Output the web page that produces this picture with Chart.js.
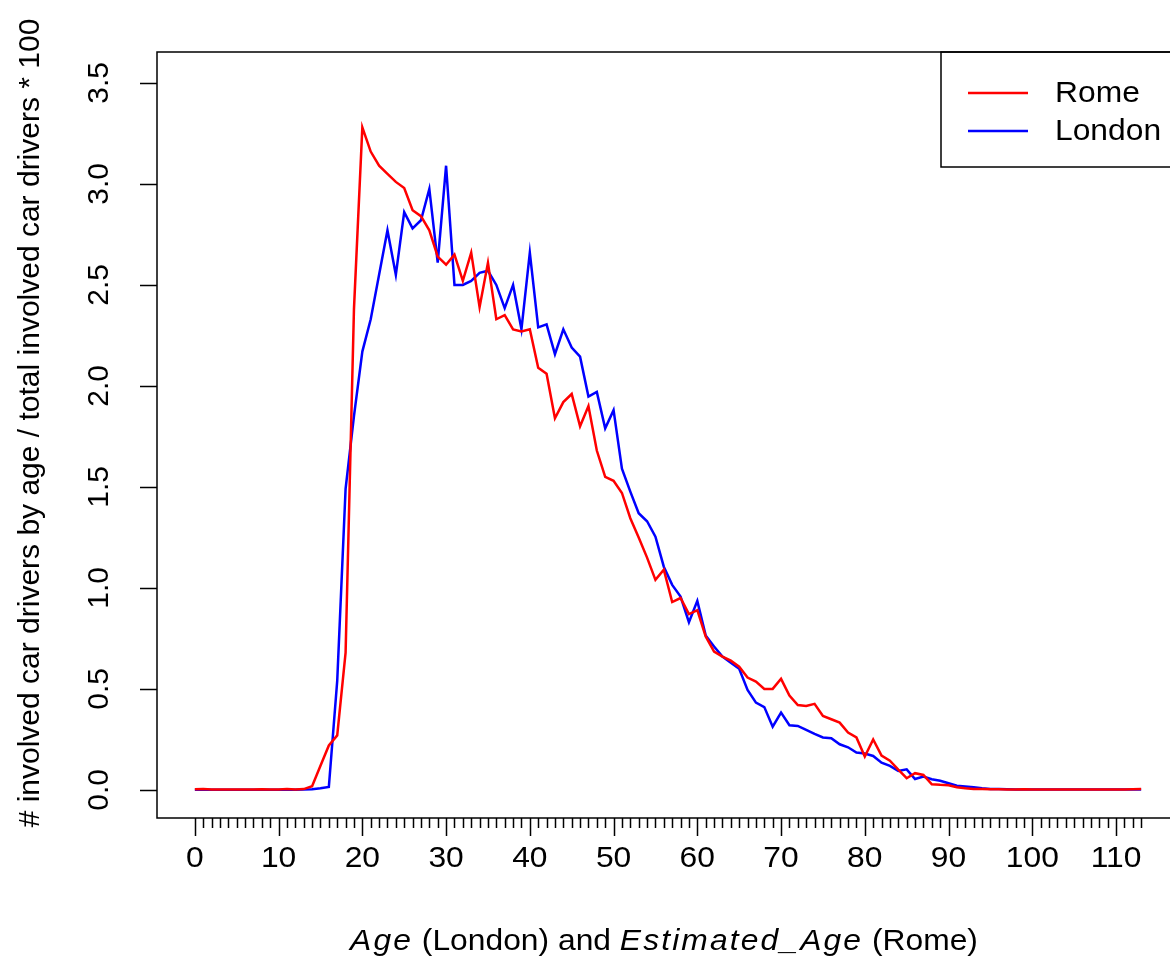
<!DOCTYPE html>
<html>
<head>
<meta charset="utf-8">
<script src="https://cdn.jsdelivr.net/npm/chart.js@4.4.1/dist/chart.umd.min.js"></script>
<style>
  html, body { margin: 0; padding: 0; background: #fff; overflow: hidden; }
  #wrap { width: 1190px; height: 961px; position: relative; }
</style>
</head>
<body>
<div id="wrap"><canvas id="chart"></canvas></div>
<script>
// ages 0..113
const ages = [
  0, 1, 2, 3, 4, 5, 6, 7, 8, 9, 10, 11, 12, 13, 14, 15, 16, 17, 18, 19,
  20, 21, 22, 23, 24, 25, 26, 27, 28, 29, 30, 31, 32, 33, 34, 35, 36, 37, 38, 39,
  40, 41, 42, 43, 44, 45, 46, 47, 48, 49, 50, 51, 52, 53, 54, 55, 56, 57, 58, 59,
  60, 61, 62, 63, 64, 65, 66, 67, 68, 69, 70, 71, 72, 73, 74, 75, 76, 77, 78, 79,
  80, 81, 82, 83, 84, 85, 86, 87, 88, 89, 90, 91, 92, 93, 94, 95, 96, 97, 98, 99,
  100, 101, 102, 103, 104, 105, 106, 107, 108, 109, 110, 111, 112, 113
];

const rome = [
  0.003, 0.004, 0.002, 0.002, 0.002, 0.002, 0.002, 0.002, 0.003, 0.002,
  0.002, 0.004, 0.002, 0.004, 0.018, 0.12, 0.22, 0.27, 0.68, 2.38,
  3.28, 3.16, 3.09, 3.05, 3.01, 2.98, 2.87, 2.84, 2.77, 2.64,
  2.60, 2.65, 2.52, 2.66, 2.39, 2.61, 2.33, 2.35, 2.28, 2.27,
  2.28, 2.09, 2.06, 1.84, 1.92, 1.96, 1.80, 1.90, 1.68, 1.55,
  1.53, 1.47, 1.345, 1.25, 1.15, 1.04, 1.09, 0.93, 0.95, 0.87,
  0.89, 0.76, 0.685, 0.66, 0.64, 0.61, 0.556, 0.536, 0.50, 0.50,
  0.55, 0.467, 0.42, 0.416, 0.426, 0.366, 0.35, 0.333, 0.284, 0.26,
  0.165, 0.25, 0.17, 0.145, 0.10, 0.058, 0.083, 0.074, 0.028, 0.025,
  0.023, 0.013, 0.008, 0.005, 0.004, 0.003, 0.003, 0.002, 0.002, 0.003,
  0.002, 0.002, 0.002, 0.002, 0.002, 0.002, 0.002, 0.002, 0.002, 0.002,
  0.002, 0.002, 0.003, 0.004
];

const london = [
  0.001, 0.001, 0.001, 0.001, 0.001, 0.001, 0.001, 0.001, 0.001, 0.001,
  0.001, 0.001, 0.001, 0.002, 0.003, 0.008, 0.015, 0.54, 1.49, 1.85,
  2.17, 2.33, 2.55, 2.77, 2.55, 2.86, 2.78, 2.82, 2.975, 2.61,
  3.09, 2.50, 2.50, 2.52, 2.56, 2.57, 2.50, 2.385, 2.50, 2.28,
  2.66, 2.29, 2.305, 2.157, 2.28, 2.19, 2.145, 1.947, 1.97, 1.79,
  1.88, 1.59, 1.477, 1.37, 1.33, 1.254, 1.105, 1.015, 0.957, 0.83,
  0.936, 0.765, 0.71, 0.66, 0.63, 0.60, 0.495, 0.432, 0.41, 0.313,
  0.383, 0.32, 0.317, 0.297, 0.277, 0.26, 0.256, 0.226, 0.211, 0.185,
  0.18, 0.168, 0.135, 0.119, 0.094, 0.102, 0.054, 0.066, 0.053, 0.045,
  0.033, 0.021, 0.017, 0.013, 0.008, 0.005, 0.004, 0.003, 0.002, 0.002,
  0.002, 0.002, 0.002, 0.002, 0.002, 0.002, 0.002, 0.002, 0.002, 0.002,
  0.002, 0.002, 0.002, 0.002
];

const xTicks = [0, 10, 20, 30, 40, 50, 60, 70, 80, 90, 100, 110];
const yTicks = [0, 0.5, 1, 1.5, 2, 2.5, 3, 3.5];
const yTickLabels = ['0.0', '0.5', '1.0', '1.5', '2.0', '2.5', '3.0', '3.5'];

const xTitle = [
  { text: 'Age', italic: true },
  { text: ' (London) and ', italic: false },
  { text: 'Estimated_Age', italic: true },
  { text: ' (Rome)', italic: false }
];
const yTitle = '# involved car drivers by age / total involved car drivers * 100';

const FONT = '"Liberation Sans", Arial, sans-serif';
const FS = 30;
const SX = 1.06; // horizontal text stretch of the original device

function hText(ctx, text, x, y, align) {
  ctx.save();
  ctx.translate(x, y);
  ctx.scale(SX, 1);
  ctx.textAlign = align;
  ctx.fillText(text, 0, 0);
  ctx.restore();
}

// R-like box, ticks, labels, titles and legend
const baseGraphics = {
  id: 'baseGraphics',
  afterDatasetsDraw(chart) {
    const { ctx, chartArea: a } = chart;
    ctx.save();
    // legend box (topright, inset 0)
    const lw = 238, lh = 115;
    const lx = a.right - lw, ly = a.top;
    ctx.fillStyle = '#fff';
    ctx.fillRect(lx, ly, lw, lh);
    ctx.strokeStyle = '#000';
    ctx.lineWidth = 1.5;
    ctx.strokeRect(lx, ly, lw, lh);
    ctx.font = FS + 'px ' + FONT;
    ctx.textBaseline = 'middle';
    chart.data.datasets.forEach((ds, i) => {
      const yy = ly + 41 + i * 38;
      ctx.strokeStyle = ds.borderColor;
      ctx.lineWidth = 2.5;
      ctx.beginPath();
      ctx.moveTo(lx + 27, yy);
      ctx.lineTo(lx + 87, yy);
      ctx.stroke();
      ctx.fillStyle = '#000';
      hText(ctx, ds.label, lx + 114, yy + 1, 'left');
    });
    ctx.restore();
  },
  afterDraw(chart) {
    const { ctx, chartArea: a, scales: { x, y } } = chart;
    ctx.save();
    ctx.strokeStyle = '#000';
    ctx.fillStyle = '#000';
    ctx.lineWidth = 1.5;
    ctx.strokeRect(a.left, a.top, a.right - a.left, a.bottom - a.top);

    // x axis: minor tick every year, major every 10
    ctx.beginPath();
    ages.forEach(v => {
      const px = Math.round(x.getPixelForValue(v)) + 0.5;
      const len = v % 10 === 0 ? 18 : 10;
      ctx.moveTo(px, a.bottom);
      ctx.lineTo(px, a.bottom + len);
    });
    ctx.stroke();
    ctx.font = FS + 'px ' + FONT;
    ctx.textBaseline = 'middle';
    xTicks.forEach(v => hText(ctx, String(v), x.getPixelForValue(v), 859, 'center'));

    // y axis
    ctx.beginPath();
    yTicks.forEach(v => {
      const py = Math.round(y.getPixelForValue(v)) + 0.5;
      ctx.moveTo(a.left, py);
      ctx.lineTo(a.left - 17, py);
    });
    ctx.stroke();
    ctx.textAlign = 'center';
    yTicks.forEach((v, i) => {
      ctx.save();
      ctx.translate(100, y.getPixelForValue(v));
      ctx.rotate(-Math.PI / 2);
      ctx.fillText(yTickLabels[i], 0, 0);
      ctx.restore();
    });

    // x title with italic parts (plotmath italics are loosely spaced)
    const parts = xTitle.map(p => {
      ctx.font = (p.italic ? 'italic ' : '') + FS + 'px ' + FONT;
      ctx.letterSpacing = p.italic ? '2px' : '0px';
      return { ...p, w: ctx.measureText(p.text).width * SX };
    });
    const total = parts.reduce((s, p) => s + p.w, 0);
    let cx = (a.left + a.right) / 2 - total / 2 - 4;
    parts.forEach(p => {
      ctx.font = (p.italic ? 'italic ' : '') + FS + 'px ' + FONT;
      ctx.letterSpacing = p.italic ? '2px' : '0px';
      hText(ctx, p.text, cx, 942, 'left');
      cx += p.w;
    });
    ctx.letterSpacing = '0px';

    // y title
    ctx.font = FS + 'px ' + FONT;
    ctx.textAlign = 'center';
    ctx.save();
    ctx.translate(31, 423);
    ctx.rotate(-Math.PI / 2);
    ctx.fillText(yTitle, 0, 0);
    ctx.restore();

    ctx.restore();
  }
};

new Chart(document.getElementById('chart'), {
  type: 'line',
  data: {
    datasets: [
      {
        label: 'Rome',
        data: ages.map((a, i) => ({ x: a, y: rome[i] })),
        borderColor: '#ff0000',
        borderWidth: 2.5
      },
      {
        label: 'London',
        data: ages.map((a, i) => ({ x: a, y: london[i] })),
        borderColor: '#0000ff',
        borderWidth: 2.5
      }
    ]
  },
  options: {
    responsive: true,
    maintainAspectRatio: false,
    animation: false,
    layout: { padding: { left: 157, top: 52, right: 11, bottom: 143 } },
    elements: { point: { radius: 0 }, line: { tension: 0 } },
    plugins: { legend: { display: false }, tooltip: { enabled: false } },
    scales: {
      x: { type: 'linear', display: false, min: -4.52, max: 117.52 },
      y: { type: 'linear', display: false, min: -0.139, max: 3.653 }
    }
  },
  plugins: [baseGraphics]
});
</script>
</body>
</html>
